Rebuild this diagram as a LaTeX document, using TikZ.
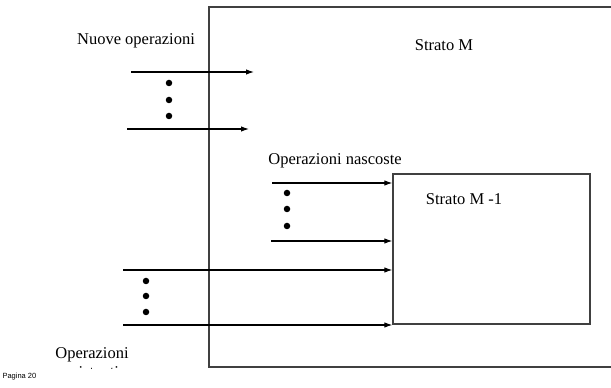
\documentclass[tikz,border=0pt]{standalone}
\usepackage{fontspec}
\setmainfont{Liberation Serif}
\setsansfont{Liberation Sans}
\usetikzlibrary{arrows.meta}
\tikzset{
  lbl/.style={inner sep=0pt,font=\fontsize{16.5}{19}\selectfont},
  puntino/.style={circle,fill,inner sep=0pt,minimum size=6.5pt},
}
\begin{document}
\begin{tikzpicture}[x=1pt,y=1pt,>={Latex[length=8pt,width=5.5pt]},line width=1.1pt]
                \useasboundingbox (0,0) rectangle (611,388);
                % strato M (aperto a destra)
                \draw[line width=1.3pt,black!75] (611,381) -- (209,381) -- (209,21) -- (611,21);
                \node[draw,line width=1.3pt,black!75,minimum width=197pt,minimum height=150pt,inner sep=0pt] (stratoMm) at (491.5,139) {};

                \node[lbl] (nuove) at (136,347) {Nuove operazioni};
                \node[lbl] (stratoM) at (444,343) {Strato M};
                \node[lbl] (nascoste) at (335,227) {Operazioni nascoste};
                \node[lbl] (stratoMmlbl) at (464,189) {Strato M -1};
                \begin{scope}
                    \clip (0,19) rectangle (209,388);
                    \node[lbl,align=center,anchor=north] (esistenti) at (92,41) {Operazioni\\esistenti};
                \end{scope}
                \node[inner sep=0pt,font=\sffamily\fontsize{7.5}{9}\selectfont,anchor=west] (pagina) at (2,11) {Pagina 20};

                \coordinate (a1) at (131,316); \coordinate (a1e) at (254,316);
                \coordinate (a2) at (127,259); \coordinate (a2e) at (249,259);
                \coordinate (b1) at (272,205); \coordinate (b1e) at (stratoMm.west |- b1);
                \coordinate (b2) at (271,147); \coordinate (b2e) at (stratoMm.west |- b2);
                \coordinate (c1) at (123,118); \coordinate (c1e) at (stratoMm.west |- c1);
                \coordinate (c2) at (123,63);  \coordinate (c2e) at (stratoMm.west |- c2);

                \draw[->] (a1) to (a1e); \draw[->] (a2) to (a2e);
                \draw[->] (b1) to (b1e); \draw[->] (b2) to (b2e);
                \draw[->] (c1) to (c1e); \draw[->] (c2) to (c2e);

                \foreach \px/\py in {169/305,169/288,169/272,287/195,287/179,287/162,146/107,146/92,146/76}
                    \node[puntino] at (\px,\py) {};
            \end{tikzpicture}
\end{document}
